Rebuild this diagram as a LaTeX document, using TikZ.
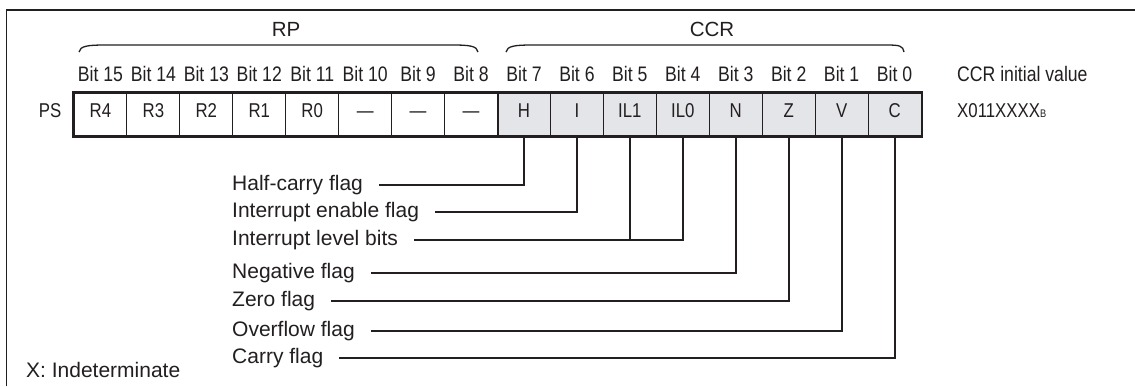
\documentclass[tikz,border=0pt]{standalone}
\usepackage{fontspec}
\setmainfont{Liberation Sans}
\definecolor{ink}{HTML}{231F20}
\definecolor{ccrfill}{HTML}{E4E5E8}
\newcommand{\cnd}[1]{\scalebox{0.84}[1]{#1}}
\begin{document}
\begin{tikzpicture}[x=1pt,y=-1pt,
  every node/.style={text=ink, inner sep=0pt},
  cell/.style={draw=ink, line width=1.1pt, minimum width=52.94pt, minimum height=43pt,
    text height=15pt, text depth=10pt, font=\fontsize{20}{22}\selectfont},
  ccrcell/.style={cell, fill=ccrfill},
  bitlbl/.style={anchor=base, font=\fontsize{21}{24}\selectfont},
  title/.style={anchor=base, font=\fontsize{20.5}{24}\selectfont},
  flaglbl/.style={anchor=west, text height=15pt, text depth=4.5pt, font=\fontsize{21}{24}\selectfont},
  conn/.style={draw=ink, line width=2pt},
  brace/.style={draw=ink, line width=1.3pt}
]
\useasboundingbox (0,0) rectangle (1135,386);
\fill[white] (0,0) rectangle (1135,386);
% frame
\draw[ink, line width=1.2pt] (6.5,386) -- (6.5,10) -- (1135,10);

% register cells
\foreach \t [count=\k from 0] in {R4,R3,R2,R1,R0,—,—,—} {
  \pgfmathtruncatemacro\b{15-\k}
  \node[cell] (c\b) at ({74+52.94*(\k+0.5)},114.5) {\cnd{\t}};
  \node[bitlbl] (b\b) at ([yshift=11.3pt]c\b.north) {\cnd{Bit \b}};
}
\foreach \t [count=\k from 8] in {H,I,IL1,IL0,N,Z,V,C} {
  \pgfmathtruncatemacro\b{15-\k}
  \node[ccrcell] (c\b) at ({74+52.94*(\k+0.5)},114.5) {\cnd{\t}};
  \node[bitlbl] (b\b) at ([yshift=11.3pt]c\b.north) {\cnd{Bit \b}};
}
\draw[ink, line width=2.2pt] (c15.north west) rectangle (c0.south east);
\draw[ink, line width=2.2pt] (c8.north east) -- (c8.south east);

\node[anchor=base, font=\fontsize{20}{22}\selectfont] (ps) at (50,117) {\cnd{PS}};

% titles and braces
\node[title] (rp) at (286,36.7) {RP};
\node[title] (ccr) at (712,36.7) {CCR};
\draw[brace] (79,52) .. controls (80,46) and (88,45) .. (105,45) -- (452,45)
  .. controls (470,45) and (477,46) .. (478,52);
\draw[brace] (506,52) .. controls (507,46) and (515,45) .. (532,45) -- (887,45)
  .. controls (900,45) and (903,46) .. (904,52);

% initial value
\node[anchor=base west, font=\fontsize{21}{24}\selectfont] (initt) at (957,81.7) {\cnd{CCR initial value}};
\node[anchor=base west, font=\fontsize{20}{24}\selectfont] (initv) at (957,117)
  {\cnd{X011XXXX\fontsize{11}{12}\selectfont B}};

% flag labels
\node[flaglbl] (lh) at (232,185) {Half-carry flag};
\node[flaglbl] (li) at (232,212) {Interrupt enable flag};
\node[flaglbl] (lil) at (232,240) {Interrupt level bits};
\node[flaglbl] (ln) at (232,273) {Negative flag};
\node[flaglbl] (lz) at (232,301) {Zero flag};
\node[flaglbl] (lv) at (232,331) {Overflow flag};
\node[flaglbl] (lc) at (232,358) {Carry flag};

\draw[conn] (c7.south) |- ([xshift=16pt]lh.east);
\draw[conn] (c6.south) |- ([xshift=16pt]li.east);
\draw[conn] (c4.south) |- ([xshift=16pt]lil.east);
\draw[conn] (c5.south) -- (c5.south |- lil.east);
\draw[conn] (c3.south) |- ([xshift=16pt]ln.east);
\draw[conn] (c2.south) |- ([xshift=16pt]lz.east);
\draw[conn] (c1.south) |- ([xshift=16pt]lv.east);
\draw[conn] (c0.south) |- ([xshift=16pt]lc.east);

\node[anchor=base west, font=\fontsize{21}{24}\selectfont] (xind) at (26,377.5) {X: Indeterminate};
\end{tikzpicture}
\end{document}
